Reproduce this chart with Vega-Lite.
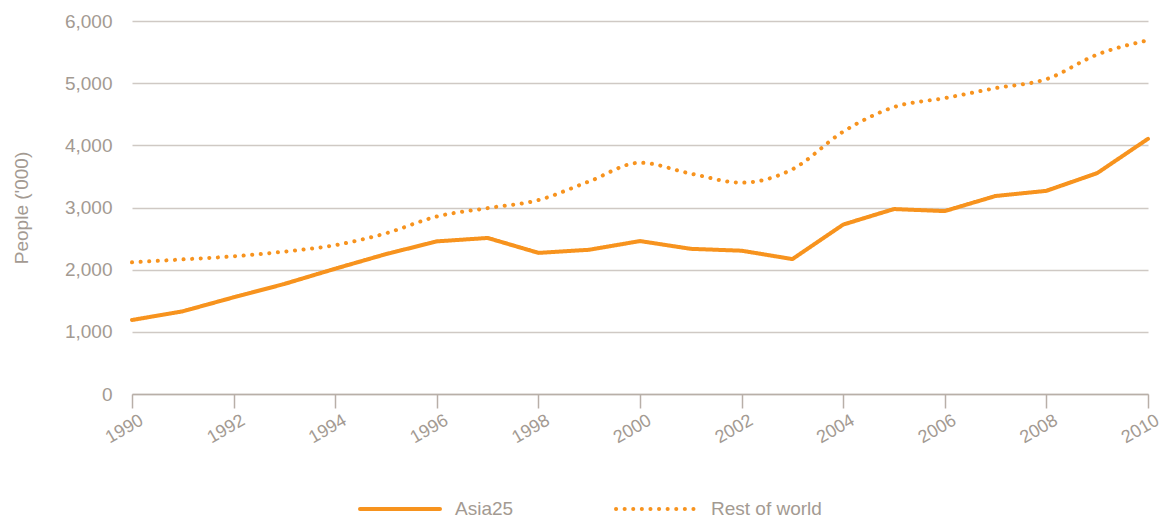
{
  "$schema": "https://vega.github.io/schema/vega-lite/v6.json",
  "width": 1016,
  "height": 373,
  "autosize": {"type": "none"},
  "padding": {"left": 132, "top": 21, "right": 14, "bottom": 123},
  "background": "white",
  "config": {
    "view": {"stroke": null},
    "font": "Liberation Sans",
    "axis": {"labelFont": "Liberation Sans", "titleFont": "Liberation Sans", "labelColor": "#A39A92", "titleColor": "#A39A92"}
  },
  "data": {
    "values": [
      {"year": 1990, "series": "Asia25", "value": 1190},
      {"year": 1991, "series": "Asia25", "value": 1330},
      {"year": 1992, "series": "Asia25", "value": 1555},
      {"year": 1993, "series": "Asia25", "value": 1770},
      {"year": 1994, "series": "Asia25", "value": 2015},
      {"year": 1995, "series": "Asia25", "value": 2250},
      {"year": 1996, "series": "Asia25", "value": 2455},
      {"year": 1997, "series": "Asia25", "value": 2510},
      {"year": 1998, "series": "Asia25", "value": 2270},
      {"year": 1999, "series": "Asia25", "value": 2320},
      {"year": 2000, "series": "Asia25", "value": 2460},
      {"year": 2001, "series": "Asia25", "value": 2335},
      {"year": 2002, "series": "Asia25", "value": 2305},
      {"year": 2003, "series": "Asia25", "value": 2170},
      {"year": 2004, "series": "Asia25", "value": 2725},
      {"year": 2005, "series": "Asia25", "value": 2975},
      {"year": 2006, "series": "Asia25", "value": 2942},
      {"year": 2007, "series": "Asia25", "value": 3185},
      {"year": 2008, "series": "Asia25", "value": 3268},
      {"year": 2009, "series": "Asia25", "value": 3553},
      {"year": 2010, "series": "Asia25", "value": 4105},
      {"year": 1990, "series": "Rest of world", "value": 2118},
      {"year": 1991, "series": "Rest of world", "value": 2165},
      {"year": 1992, "series": "Rest of world", "value": 2215},
      {"year": 1993, "series": "Rest of world", "value": 2290},
      {"year": 1994, "series": "Rest of world", "value": 2395},
      {"year": 1995, "series": "Rest of world", "value": 2585},
      {"year": 1996, "series": "Rest of world", "value": 2855},
      {"year": 1997, "series": "Rest of world", "value": 2990},
      {"year": 1998, "series": "Rest of world", "value": 3120},
      {"year": 1999, "series": "Rest of world", "value": 3420},
      {"year": 2000, "series": "Rest of world", "value": 3720},
      {"year": 2001, "series": "Rest of world", "value": 3545},
      {"year": 2002, "series": "Rest of world", "value": 3400},
      {"year": 2003, "series": "Rest of world", "value": 3615},
      {"year": 2004, "series": "Rest of world", "value": 4220},
      {"year": 2005, "series": "Rest of world", "value": 4615},
      {"year": 2006, "series": "Rest of world", "value": 4760},
      {"year": 2007, "series": "Rest of world", "value": 4920},
      {"year": 2008, "series": "Rest of world", "value": 5065},
      {"year": 2009, "series": "Rest of world", "value": 5460},
      {"year": 2010, "series": "Rest of world", "value": 5690}
    ]
  },
  "encoding": {
    "x": {
      "field": "year", "type": "quantitative",
      "scale": {"domain": [1990, 2010], "nice": false, "zero": false},
      "axis": {
        "title": null,
        "values": [1990, 1992, 1994, 1996, 1998, 2000, 2002, 2004, 2006, 2008, 2010],
        "format": "d",
        "grid": false,
        "domainColor": "#B8AFA8",
        "domainWidth": 1.5,
        "tickColor": "#B8AFA8",
        "tickWidth": 1.5,
        "tickSize": 14,
        "labelAngle": -30,
        "labelAlign": "right",
        "labelBaseline": "top",
        "labelOffset": 5,
        "labelPadding": 3,
        "labelFontSize": 18
      }
    },
    "y": {
      "field": "value", "type": "quantitative",
      "scale": {"domain": [0, 6000], "nice": false},
      "axis": {
        "title": "People ('000)",
        "values": [0, 1000, 2000, 3000, 4000, 5000, 6000],
        "format": ",d",
        "domain": false,
        "ticks": false,
        "gridColor": "#CFC9C4",
        "gridWidth": 1.5,
        "labelFontSize": 19,
        "labelPadding": 20,
        "titleFontSize": 19,
        "titleFontWeight": "normal",
        "titlePadding": 33
      }
    },
    "color": {
      "field": "series", "type": "nominal",
      "scale": {"domain": ["Asia25", "Rest of world"], "range": ["#F7931E", "#F7931E"]},
      "legend": {
        "title": null,
        "orient": "none",
        "legendX": 226,
        "legendY": 446,
        "direction": "horizontal",
        "symbolType": "stroke",
        "symbolSize": 6400,
        "symbolStrokeWidth": 4,
        "labelFontSize": 19,
        "labelFont": "Liberation Sans",
        "labelColor": "#A39A92",
        "labelOffset": 13,
        "columnPadding": 94,
        "encode": {"symbols": {"update": {"strokeCap": {"value": "round"}}}}
      }
    },
    "strokeDash": {
      "field": "series", "type": "nominal",
      "scale": {"domain": ["Asia25", "Rest of world"], "range": [[1, 0], [0.1, 8.5]]},
      "legend": null
    }
  },
  "layer": [
    {
      "transform": [{"filter": "datum.series === 'Asia25'"}],
      "mark": {"type": "line", "strokeWidth": 4, "interpolate": "linear", "strokeCap": "round", "strokeJoin": "round"}
    },
    {
      "transform": [{"filter": "datum.series === 'Rest of world'"}],
      "mark": {"type": "line", "strokeWidth": 4, "interpolate": "monotone", "strokeCap": "round", "strokeJoin": "round"}
    }
  ]
}
